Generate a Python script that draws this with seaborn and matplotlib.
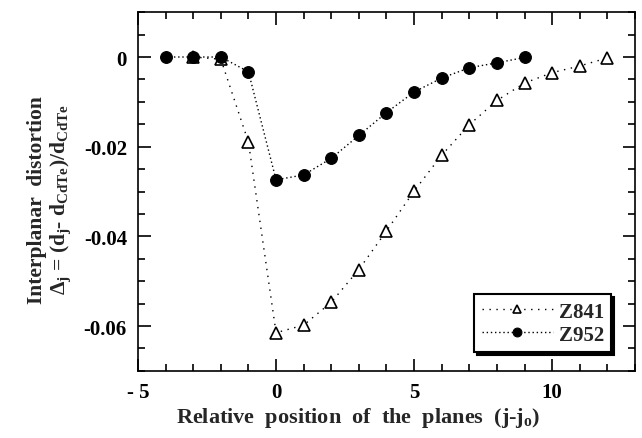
import matplotlib
matplotlib.use("Agg")
import matplotlib.pyplot as plt
import matplotlib.ticker as mticker
import seaborn as sns
import pandas as pd

# Data
x_z841 = [-3, -2, -1, 0, 1, 2, 3, 4, 5, 6, 7, 8, 9, 10, 11, 12]
y_z841 = [0.0, -0.0005, -0.019, -0.0615, -0.0598, -0.0547, -0.0474, -0.0388,
          -0.0299, -0.0219, -0.0151, -0.0097, -0.0058, -0.0035, -0.0020, -0.0002]
x_z952 = [-4, -3, -2, -1, 0, 1, 2, 3, 4, 5, 6, 7, 8, 9]
y_z952 = [0.0, 0.0, 0.0, -0.0033, -0.0274, -0.0263, -0.0226, -0.0175,
          -0.0124, -0.0078, -0.0047, -0.0024, -0.0013, -0.0001]

x_ticks = [-5, 0, 5, 10]
y_ticks = [0, -0.02, -0.04, -0.06]
y_ticklabels = ["0", "-0.02", "-0.04", "-0.06"]
x_ticklabels = ["- 5", "0", "5", "10"]

sns.set_style("ticks")
plt.rcParams['font.family'] = ['Liberation Serif', 'DejaVu Serif']
plt.rcParams['font.weight'] = 'bold'
plt.rcParams['mathtext.fontset'] = 'custom'
plt.rcParams['mathtext.rm'] = 'Liberation Serif:bold'
plt.rcParams['mathtext.it'] = 'Liberation Serif:bold'
plt.rcParams['mathtext.bf'] = 'Liberation Serif:bold'

fig = plt.figure(figsize=(6.42, 4.39), dpi=100)
ax = fig.add_axes([0.215, 0.153, 0.774, 0.817])

d1 = pd.DataFrame({"x": x_z841, "y": y_z841})
d2 = pd.DataFrame({"x": x_z952, "y": y_z952})

sns.lineplot(data=d1, x="x", y="y", ax=ax, color="black", linewidth=1.0,
             linestyle=(0, (1, 4)), marker="^", markersize=8,
             markerfacecolor="white", markeredgecolor="black",
             markeredgewidth=1.2, label="Z841")
sns.lineplot(data=d2, x="x", y="y", ax=ax, color="black", linewidth=1.0,
             linestyle=(0, (1, 2)), marker="o", markersize=8.5,
             markerfacecolor="black", markeredgecolor="black",
             label="Z952")

ax.set_xlim(-5, 13)
ax.set_ylim(-0.07, 0.01)
ax.set_xticks(x_ticks)
ax.set_xticklabels(x_ticklabels, fontweight="bold", fontsize=15)
ax.set_yticks(y_ticks)
ax.set_yticklabels(y_ticklabels, fontweight="bold", fontsize=15)
ax.xaxis.set_minor_locator(mticker.MultipleLocator(1))
ax.yaxis.set_minor_locator(mticker.MultipleLocator(0.005))
ax.tick_params(which="both", direction="in", top=True, right=True,
               width=1.2, colors="black")
ax.tick_params(which="major", length=9, pad=8)
ax.tick_params(which="minor", length=5)
for s in ax.spines.values():
    s.set_visible(True)
    s.set_linewidth(1.2)
    s.set_color("black")

ax.set_xlabel(r"Relative  position  of  the  planes  (j-j$_{\mathrm{o}}$)",
              fontsize=16, fontweight="bold", labelpad=2)
ax.xaxis.label.set_x(0.443)
ax.set_ylabel("Interplanar  distortion\n"
              r"$\Delta_{\mathrm{j}}$ = (d$_{\mathrm{j}}$- d$_{\mathrm{CdTe}}$)/d$_{\mathrm{CdTe}}$",
              fontsize=15.5, fontweight="bold", labelpad=8, linespacing=1.05)
ax.yaxis.label.set_y(0.48)

leg = ax.legend(loc="lower right", bbox_to_anchor=(0.965, 0.035),
                frameon=True, fancybox=False,
                shadow={"color": "black", "alpha": 1.0},
                prop={"size": 15, "weight": "bold", "family": "Liberation Serif"},
                handlelength=3.4, borderpad=0.35, labelspacing=0.15,
                handletextpad=0.3, borderaxespad=0.3, markerscale=0.75)
leg.get_frame().set_edgecolor("black")
leg.get_frame().set_linewidth(1.5)
leg.get_frame().set_alpha(1.0)

fig.savefig("out.png", dpi=100)
